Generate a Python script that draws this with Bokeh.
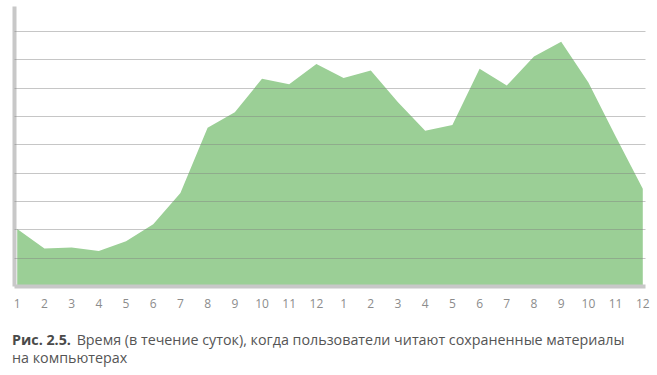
from bokeh.plotting import figure
from bokeh.models import Range1d, FixedTicker, Div
from bokeh.layouts import column
from bokeh.embed import file_html
from bokeh.resources import INLINE

# Data: share of reading by hour (24 hourly points, 1..12 am, 1..12 pm)
hour_labels = ["1", "2", "3", "4", "5", "6", "7", "8", "9", "10", "11", "12",
               "1", "2", "3", "4", "5", "6", "7", "8", "9", "10", "11", "12"]
values = [2.03, 1.34, 1.38, 1.25, 1.60, 2.20, 3.30, 5.60, 6.15, 7.33, 7.14, 7.85,
          7.36, 7.62, 6.50, 5.50, 5.70, 7.68, 7.09, 8.12, 8.64, 7.20, 5.30, 3.45]
grid_levels = [1, 2, 3, 4, 5, 6, 7, 8, 9]

caption_bold = "Рис. 2.5."
caption_line1 = "Время (в течение суток), когда пользователи читают сохраненные материалы"
caption_line2 = "на компьютерах"

xs = list(range(len(values)))

PH = 331   # height of the chart part; the caption sits below it
FB = 286   # frame bottom
p = figure(width=657, height=PH, output_backend="svg", toolbar_location=None,
           x_range=Range1d(-0.1, 23.1), y_range=Range1d(0, 9.88),
           min_border_left=14, min_border_right=12, min_border_top=6,
           min_border_bottom=PH - FB)
p.outline_line_color = None
p.background_fill_color = "white"
p.border_fill_color = "white"

p.varea(x=xs, y1=[0] * len(values), y2=values, fill_color="#9bcf96")

# grid drawn over the area
p.xgrid.visible = False
p.ygrid.ticker = FixedTicker(ticks=grid_levels)
p.ygrid.grid_line_color = "#808080"
p.ygrid.grid_line_alpha = 0.45
p.ygrid.grid_line_width = 1
p.ygrid.level = "overlay"

# axes
p.xaxis.ticker = FixedTicker(ticks=xs)
p.xaxis.major_label_overrides = {i: lab for i, lab in enumerate(hour_labels)}
p.xaxis.axis_line_color = "#c8c8c8"
p.xaxis.axis_line_width = 4
p.xaxis.major_tick_line_color = None
p.xaxis.minor_tick_line_color = None
p.xaxis.major_label_standoff = 6
p.xaxis.major_label_text_font = "Open Sans"
p.xaxis.major_label_text_font_size = "12px"
p.xaxis.major_label_text_color = "#8c8c8c"

p.yaxis.ticker = FixedTicker(ticks=[])
p.yaxis.axis_line_color = "#c8c8c8"
p.yaxis.axis_line_width = 4
p.yaxis.major_tick_line_color = None
p.yaxis.minor_tick_line_color = None

caption_html = (
    '<div style="font-family:\'Open Sans\';font-size:14.3px;line-height:18px;'
    'color:#555555;padding-left:12px;white-space:nowrap;margin:0">'
    f'<b style="color:#4a4a4a;margin-right:2px">{caption_bold}</b> {caption_line1}<br>'
    f'{caption_line2}</div>'
)
cap = Div(text=caption_html, width=657, height=375 - PH, margin=(0, 0, 0, 0))

layout = column(p, cap, spacing=0)
open("out.html", "w").write(file_html(layout, INLINE))
